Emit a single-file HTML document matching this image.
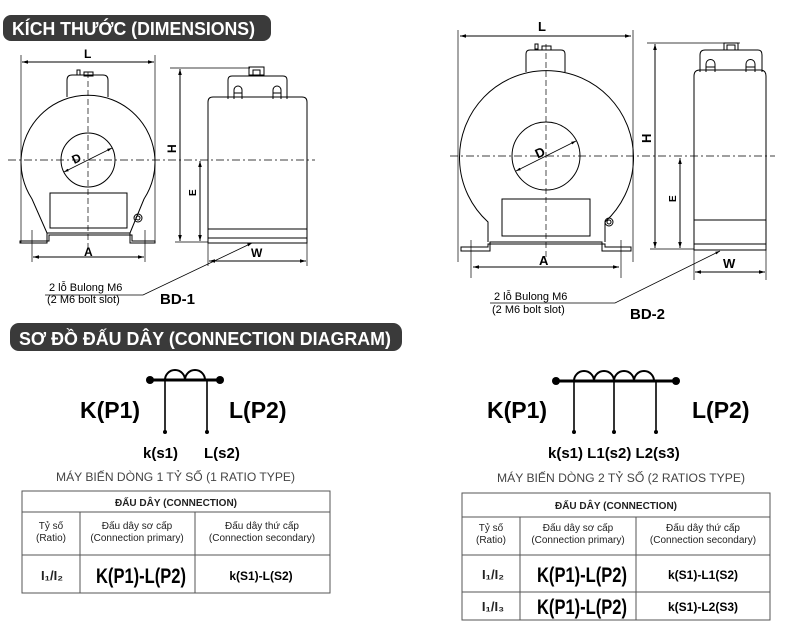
<!DOCTYPE html>
<html><head><meta charset="utf-8"><style>
body{margin:0;background:#fff;width:800px;height:625px;overflow:hidden}
svg{display:block}
text{font-family:"Liberation Sans",sans-serif}
</style></head><body>
<svg width="800" height="625" viewBox="0 0 800 625" xmlns="http://www.w3.org/2000/svg">
<defs>
<marker id="a" viewBox="0 0 10 10" refX="10" refY="5" markerWidth="6" markerHeight="6" orient="auto-start-reverse"><path d="M0,2 L10,5 L0,8z" fill="#000"/></marker>
</defs>
<!-- headers -->
<rect x="3" y="15" width="268" height="26" rx="8" fill="#3a3a3a"/>
<text x="12" y="35" font-size="18" font-weight="bold" fill="#fff" textLength="243" lengthAdjust="spacingAndGlyphs">KÍCH THƯỚC (DIMENSIONS)</text>
<rect x="10" y="323" width="392" height="28" rx="9" fill="#3a3a3a"/>
<text x="19" y="345" font-size="18" font-weight="bold" fill="#fff" textLength="372" lengthAdjust="spacingAndGlyphs">SƠ ĐỒ ĐẤU DÂY (CONNECTION DIAGRAM)</text>

<g fill="none" stroke="#000" stroke-width="1">
<!-- BD-1 front -->
<line x1="21" y1="55" x2="21" y2="243" stroke-width="0.7"/>
<line x1="155" y1="55" x2="155" y2="243" stroke-width="0.7"/>
<line x1="22" y1="62" x2="154" y2="62" marker-start="url(#a)" marker-end="url(#a)"/>
<path d="M67,97 V80 Q67,75 72,75 H103 Q108,75 108,80 V97"/>
<rect x="77" y="70" width="3" height="5"/><rect x="84" y="72" width="9" height="4"/>
<path d="M47,233 L32,199 A67,67 0 1 1 144,199 L130,233"/>
<path d="M20,243 H47 V233 H130 V243 H155 V241 H132 V235 H49 V241 H20z"/>
<circle cx="88" cy="160" r="27"/>
<line x1="64" y1="172" x2="112" y2="148" marker-start="url(#a)" marker-end="url(#a)" stroke-width="0.8"/>
<rect x="50" y="193" width="77" height="35"/>
<circle cx="138" cy="218" r="4"/><circle cx="138" cy="218" r="2"/>
<line x1="32" y1="230" x2="32" y2="262" stroke-width="0.7"/>
<line x1="145" y1="230" x2="145" y2="262" stroke-width="0.7"/>
<line x1="33" y1="257" x2="144" y2="257" marker-start="url(#a)" marker-end="url(#a)"/>
<line x1="8" y1="160" x2="315" y2="160" stroke-dasharray="8,3,2,3" stroke-width="0.7"/>
<line x1="88" y1="72" x2="88" y2="248" stroke-dasharray="6,3" stroke-width="0.7"/>
<!-- BD-1 side -->
<path d="M208,243 V102 Q208,97 213,97 H302 Q307,97 307,102 V243 Z"/>
<path d="M228,99 V80 Q228,76 232,76 H283 Q287,76 287,80 V99"/>
<path d="M234,99 V90 A4,4 0 0 1 242,90 V99 M273,99 V90 A4,4 0 0 1 281,90 V99 M234,93 H242 M273,93 H281"/>
<rect x="249" y="67" width="15" height="8"/><rect x="253" y="70" width="7" height="5"/>
<line x1="208" y1="229" x2="307" y2="229"/><line x1="208" y1="238" x2="307" y2="238"/>
<line x1="170" y1="68" x2="250" y2="68" stroke-width="0.7"/>
<line x1="175" y1="242" x2="208" y2="242" stroke-width="0.7"/>
<line x1="180" y1="69" x2="180" y2="241" marker-start="url(#a)" marker-end="url(#a)"/>
<line x1="200" y1="161" x2="200" y2="241" marker-start="url(#a)" marker-end="url(#a)"/>
<line x1="208" y1="243" x2="208" y2="266" stroke-width="0.7"/><line x1="307" y1="243" x2="307" y2="266" stroke-width="0.7"/>
<line x1="209" y1="261" x2="306" y2="261" marker-start="url(#a)" marker-end="url(#a)"/>
<path d="M45,295 H143 L252,243" marker-end="url(#a)" stroke-width="0.8"/>

<!-- BD-2 front -->
<line x1="458" y1="30" x2="458" y2="262" stroke-width="0.7"/>
<line x1="633" y1="30" x2="633" y2="262" stroke-width="0.7"/>
<line x1="460" y1="36" x2="631" y2="36" marker-start="url(#a)" marker-end="url(#a)"/>
<path d="M526,72 V54 Q526,50 530,50 H561 Q565,50 565,54 V72"/>
<rect x="535" y="44" width="3" height="5"/><rect x="542" y="46" width="9" height="4"/>
<path d="M488,242 V222 A87,87 0 1 1 605,222 V242"/>
<path d="M461,251 H490 V242 H602 V251 H631 V247 H605 V244 H488 V247 H461z"/>
<circle cx="546" cy="156" r="34"/>
<line x1="516" y1="171" x2="576" y2="141" marker-start="url(#a)" marker-end="url(#a)" stroke-width="0.8"/>
<rect x="502" y="199" width="88" height="37"/>
<circle cx="609" cy="222" r="4"/><circle cx="609" cy="222" r="2"/>
<line x1="471" y1="240" x2="471" y2="278" stroke-width="0.7"/>
<line x1="621" y1="240" x2="621" y2="278" stroke-width="0.7"/>
<line x1="473" y1="267" x2="619" y2="267" marker-start="url(#a)" marker-end="url(#a)"/>
<line x1="450" y1="156" x2="775" y2="156" stroke-dasharray="8,3,2,3" stroke-width="0.7"/>
<line x1="546" y1="44" x2="546" y2="260" stroke-dasharray="6,3" stroke-width="0.7"/>
<!-- BD-2 side -->
<path d="M694,250 V76 Q694,70 700,70 H760 Q766,70 766,76 V250 Z"/>
<path d="M700,72 V55 Q700,50 705,50 H758 Q762,50 762,55 V72"/>
<path d="M706,72 V64 A4.5,4.5 0 0 1 715,64 V72 M746,72 V64 A4.5,4.5 0 0 1 755,64 V72 M706,67 H715 M746,67 H755"/>
<rect x="724" y="43" width="14" height="7"/><rect x="727" y="45" width="8" height="5"/>
<line x1="694" y1="220" x2="766" y2="220"/><line x1="694" y1="244" x2="766" y2="244"/>
<line x1="647" y1="43" x2="740" y2="43" stroke-width="0.7"/>
<line x1="650" y1="249" x2="694" y2="249" stroke-width="0.7"/>
<line x1="655" y1="44" x2="655" y2="248" marker-start="url(#a)" marker-end="url(#a)"/>
<line x1="680" y1="158" x2="680" y2="248" marker-start="url(#a)" marker-end="url(#a)"/>
<line x1="694" y1="250" x2="694" y2="280" stroke-width="0.7"/><line x1="766" y1="250" x2="766" y2="280" stroke-width="0.7"/>
<line x1="695" y1="272" x2="765" y2="272" marker-start="url(#a)" marker-end="url(#a)"/>
<path d="M490,303 H615 L720,251" marker-end="url(#a)" stroke-width="0.8"/>
</g>
<g font-weight="bold" font-size="12">
<text x="84" y="58">L</text><text x="84" y="256">A</text>
<text x="72" y="162" transform="rotate(-25 78 158)">D</text>
<text x="251" y="257">W</text>
<text x="176" y="161" transform="rotate(-90 172 157)">H</text>
<text x="196" y="204" transform="rotate(-90 192 200)" font-size="10">E</text>
<text x="538" y="31" font-size="13">L</text><text x="539" y="265" font-size="13">A</text>
<text x="535" y="157" transform="rotate(-25 540 152)" font-size="13">D</text>
<text x="723" y="268" font-size="13">W</text>
<text x="651" y="151" transform="rotate(-90 647 147)" font-size="13">H</text>
<text x="676" y="210" transform="rotate(-90 672 206)" font-size="10">E</text>
</g>
<g font-size="11">
<text x="49" y="291">2  lỗ Bulong M6</text><text x="47" y="303">(2 M6 bolt slot)</text>
<text x="494" y="300">2  lỗ Bulong M6</text><text x="492" y="313">(2 M6 bolt slot)</text>
</g>
<text x="160" y="304" font-size="15" font-weight="bold">BD-1</text>
<text x="630" y="319" font-size="15" font-weight="bold">BD-2</text>

<!-- connection -->
<g fill="none" stroke="#000">
<line x1="150" y1="380" x2="220" y2="380" stroke-width="3"/>
<path d="M165,380 A10,10 0 0 1 185,380 A10,10 0 0 1 205,380" stroke-width="2"/>
<line x1="165" y1="380" x2="165" y2="432" stroke-width="1.6"/>
<line x1="207" y1="380" x2="207" y2="432" stroke-width="1.6"/>
<line x1="556" y1="381" x2="676" y2="381" stroke-width="3"/>
<path d="M574,381 A10,10 0 0 1 594,381 A10,10 0 0 1 614,381 A10,10 0 0 1 634,381 A10,10 0 0 1 654,381" stroke-width="2"/>
<line x1="574" y1="381" x2="574" y2="432" stroke-width="1.6"/>
<line x1="614" y1="381" x2="614" y2="432" stroke-width="1.6"/>
<line x1="656" y1="381" x2="656" y2="432" stroke-width="1.6"/>
</g>
<g fill="#000">
<circle cx="150" cy="380" r="4"/><circle cx="220" cy="380" r="4"/>
<circle cx="165" cy="432" r="2"/><circle cx="207" cy="432" r="2"/>
<circle cx="556" cy="381" r="4"/><circle cx="676" cy="381" r="4"/>
<circle cx="574" cy="432" r="2"/><circle cx="614" cy="432" r="2"/><circle cx="656" cy="432" r="2"/>
</g>
<g font-weight="bold">
<text x="80" y="418" font-size="23">K(P1)</text><text x="229" y="418" font-size="23">L(P2)</text>
<text x="143" y="458" font-size="15">k(s1)</text><text x="204" y="458" font-size="15">L(s2)</text>
<text x="487" y="418" font-size="23">K(P1)</text><text x="692" y="418" font-size="23">L(P2)</text>
<text x="548" y="458" font-size="15">k(s1) L1(s2) L2(s3)</text>
</g>
<text x="56" y="481" font-size="11.5" fill="#444" textLength="239" lengthAdjust="spacingAndGlyphs">MÁY BIẾN DÒNG 1 TỶ SỐ (1 RATIO TYPE)</text>
<text x="497" y="482" font-size="11.5" fill="#444" textLength="248" lengthAdjust="spacingAndGlyphs">MÁY BIẾN DÒNG 2 TỶ SỐ (2 RATIOS TYPE)</text>

<!-- tables -->
<g fill="none" stroke="#555" stroke-width="1">
<rect x="22" y="491" width="308" height="102"/>
<line x1="22" y1="512" x2="330" y2="512"/><line x1="22" y1="555" x2="330" y2="555"/>
<line x1="80" y1="512" x2="80" y2="593"/><line x1="195" y1="512" x2="195" y2="593"/>
<rect x="462" y="493" width="308" height="127"/>
<line x1="462" y1="517" x2="770" y2="517"/><line x1="462" y1="555" x2="770" y2="555"/><line x1="462" y1="592" x2="770" y2="592"/>
<line x1="520" y1="517" x2="520" y2="620"/><line x1="636" y1="517" x2="636" y2="620"/>
</g>
<g font-size="10" text-anchor="middle" fill="#222">
<text x="176" y="506" font-weight="bold">ĐẤU DÂY (CONNECTION)</text>
<text x="51" y="529">Tỷ số</text><text x="51" y="541">(Ratio)</text>
<text x="137" y="529">Đấu dây sơ cấp</text><text x="137" y="541">(Connection primary)</text>
<text x="262" y="529">Đấu dây thứ cấp</text><text x="262" y="541">(Connection secondary)</text>
<text x="52" y="580" font-family="Liberation Serif" font-size="13" font-weight="bold">I₁/I₂</text>
<text x="141" y="583" font-size="21" font-weight="bold" fill="#000" textLength="90" lengthAdjust="spacingAndGlyphs">K(P1)-L(P2)</text>
<text x="261" y="580" font-size="12" font-weight="bold" fill="#000">k(S1)-L(S2)</text>
<text x="616" y="509" font-weight="bold">ĐẤU DÂY (CONNECTION)</text>
<text x="491" y="531">Tỷ số</text><text x="491" y="543">(Ratio)</text>
<text x="578" y="531">Đấu dây sơ cấp</text><text x="578" y="543">(Connection primary)</text>
<text x="703" y="531">Đấu dây thứ cấp</text><text x="703" y="543">(Connection secondary)</text>
<text x="493" y="579" font-family="Liberation Serif" font-size="13" font-weight="bold">I₁/I₂</text>
<text x="582" y="582" font-size="21" font-weight="bold" fill="#000" textLength="90" lengthAdjust="spacingAndGlyphs">K(P1)-L(P2)</text>
<text x="703" y="579" font-size="12" font-weight="bold" fill="#000">k(S1)-L1(S2)</text>
<text x="493" y="611" font-family="Liberation Serif" font-size="13" font-weight="bold">I₁/I₃</text>
<text x="582" y="614" font-size="21" font-weight="bold" fill="#000" textLength="90" lengthAdjust="spacingAndGlyphs">K(P1)-L(P2)</text>
<text x="703" y="611" font-size="12" font-weight="bold" fill="#000">k(S1)-L2(S3)</text>
</g>
</svg>
</body></html>
